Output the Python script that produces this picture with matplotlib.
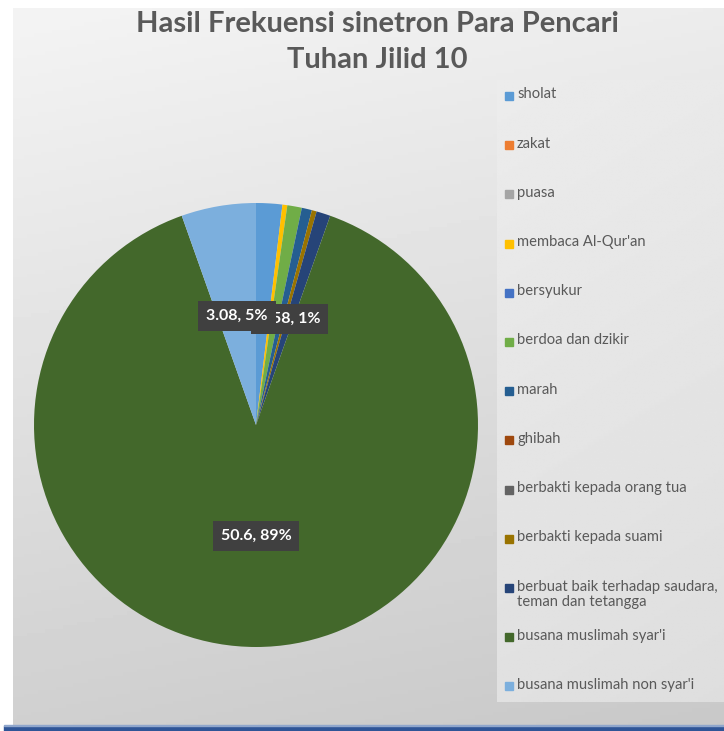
import numpy as np
import matplotlib
matplotlib.use("Agg")
import matplotlib.pyplot as plt
from matplotlib.patches import Rectangle

# ---------------- data ----------------
categories = ["sholat", "zakat", "puasa", "membaca Al-Qur'an", "bersyukur",
              "berdoa dan dzikir", "marah", "ghibah", "berbakti kepada orang tua",
              "berbakti kepada suami",
              "berbuat baik terhadap saudara,\nteman dan tetangga",
              "busana muslimah syar'i", "busana muslimah non syar'i"]
values = [1.08, 0, 0, 0.2, 0, 0.6, 0.42, 0, 0, 0.2, 0.58, 50.6, 3.08]
colors = ["#5B9BD5", "#ED7D31", "#A5A5A5", "#FFC000", "#4472C4", "#70AD47",
          "#255E91", "#9E480E", "#636363", "#997300", "#264478", "#43682B",
          "#7CAFDD"]
labelled = ["berbuat baik terhadap saudara,\nteman dan tetangga",
            "busana muslimah syar'i", "busana muslimah non syar'i"]
title = "Hasil Frekuensi sinetron Para Pencari\nTuhan Jilid 10"

W, H = 724, 731
fig = plt.figure(figsize=(W / 100, H / 100), dpi=100)
fig.patch.set_facecolor("white")

def fx(px):
    return px / W

def fy(py):
    return 1 - py / H

# background gradient of chart area
bg = fig.add_axes([fx(13), fy(726), fx(W - 13), (726 - 8) / H])
yy, xx = np.mgrid[0:1:200j, 0:1:200j]
grad = 0.955 - 0.14 * yy - 0.03 * xx
bg.imshow(grad, cmap="gray", vmin=0, vmax=1, aspect="auto",
          extent=[0, 1, 0, 1], origin="upper")
bg.set_axis_off()

# legend panel
lg = fig.add_axes([fx(497), fy(702), fx(W - 497), (702 - 80) / H])
grad2 = 0.925 - 0.045 * yy - 0.01 * xx
lg.imshow(grad2, cmap="gray", vmin=0, vmax=1, aspect="auto",
          extent=[0, 1, 0, 1], origin="upper")
lg.set_axis_off()

# bottom blue bar
fig.patches.append(Rectangle((fx(4), 0), 1 - fx(4), 5 / H,
                             transform=fig.transFigure, color="#2F5597", zorder=5))
fig.patches.append(Rectangle((fx(4), 5 / H), 1 - fx(4), 1 / H,
                             transform=fig.transFigure, color="#8FA6CC", zorder=5))

# pie
cx, cy, R = 256, 425, 222
ax = fig.add_axes([fx(cx - R), fy(cy + R), 2 * R / W, 2 * R / H])
ax.set_facecolor("none")
wedges, _ = ax.pie(values, colors=colors, startangle=90, counterclock=False,
                   radius=1, wedgeprops=dict(linewidth=0))
ax.set_xlim(-1, 1)
ax.set_ylim(-1, 1)
ax.set_aspect("equal")
ax.set_axis_off()

total = sum(values)
for cat, w, v in zip(categories, wedges, values):
    if cat not in labelled:
        continue
    mid = np.deg2rad((w.theta1 + w.theta2) / 2)
    r = 0.5
    ax.text(r * np.cos(mid), r * np.sin(mid),
            f"{v:g}, {round(100 * v / total):.0f}%",
            ha="center", va="center", color="white", fontsize=11.5,
            fontweight="bold", family=["Lato", "DejaVu Sans"], zorder=10,
            bbox=dict(boxstyle="square,pad=0.5", fc="#404040", ec="none"))

# title
fig.text(fx(377), fy(42), title, ha="center", va="center", fontsize=21,
         fontweight="bold", color="#595959", family=["Lato", "DejaVu Sans"],
         linespacing=1.45)

# legend entries
y0, step = 96, 49.2
for i, (cat, col) in enumerate(zip(categories, colors)):
    yc = y0 + i * step
    fig.patches.append(Rectangle((fx(505), fy(yc + 4)), 8 / W, 8 / H,
                                 transform=fig.transFigure, color=col, zorder=6))
    fig.text(fx(517), fy(yc - 8.5), cat, ha="left", va="top", fontsize=10.6,
             color="#595959", family=["Lato", "DejaVu Sans"], linespacing=1.15)

fig.savefig("out.png", dpi=100)
